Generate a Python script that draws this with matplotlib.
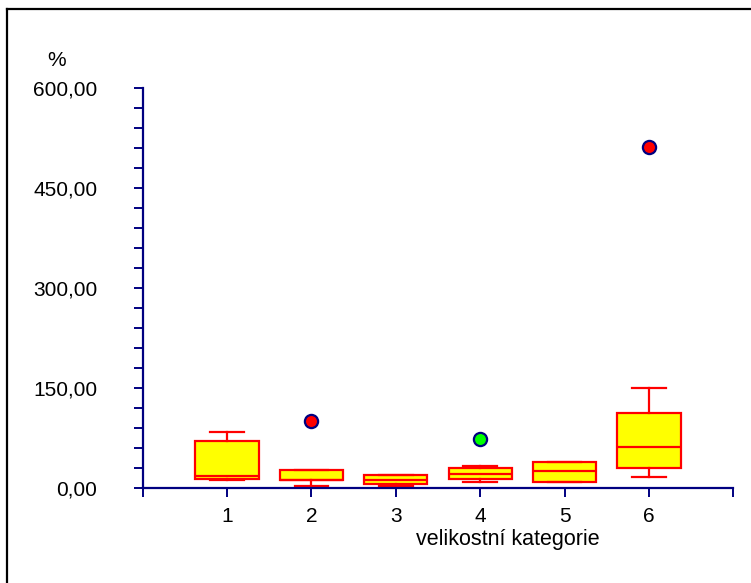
import matplotlib
matplotlib.use("Agg")
import matplotlib.pyplot as plt
from matplotlib.lines import Line2D
from matplotlib.ticker import MultipleLocator, FixedLocator

plt.rcParams['font.family'] = ['Liberation Sans', 'DejaVu Sans']

# values (percent)
categories = [1, 2, 3, 4, 5, 6]
whisker_low = [12.0, 3.0, 3.0, 8.5, 8.5, 16.5]
q1 = [13.5, 11.5, 6.0, 13.5, 8.5, 29.5]
median = [18.0, 12.0, 12.5, 21.0, 25.0, 62.0]
q3 = [70.5, 27.5, 19.0, 30.5, 38.5, 113.0]
whisker_high = [84.0, 27.5, 20.0, 33.0, 38.5, 150.5]
outliers = [[], [101.0], [], [73.0], [], [511.0]]
outlier_colors = ["#FF0000", "#FF0000", "#FF0000", "#00FF00", "#FF0000", "#FF0000"]
y_ticks = [0, 150, 300, 450, 600]
y_tick_labels = ["0,00", "150,00", "300,00", "450,00", "600,00"]

NAVY = "#000080"
RED = "#FF0000"

W, H = 751, 583
fig = plt.figure(figsize=(W / 100, H / 100), dpi=100)
ax = fig.add_axes([142.6 / W, (H - 488) / H, 7 * 84.4 / W, 400 / H])

stats = []
for i in range(len(categories)):
    stats.append({"whislo": whisker_low[i], "q1": q1[i], "med": median[i],
                  "q3": q3[i], "whishi": whisker_high[i], "fliers": []})

ax.bxp(stats, positions=categories, widths=0.75, patch_artist=True,
       showfliers=False, capwidths=0.4,
       boxprops=dict(facecolor="#FFFF00", edgecolor=RED, linewidth=1.6),
       medianprops=dict(color=RED, linewidth=1.6),
       whiskerprops=dict(color=RED, linewidth=1.6),
       capprops=dict(color=RED, linewidth=1.6))

for x, vals, c in zip(categories, outliers, outlier_colors):
    for v in vals:
        ax.plot(x, v, "o", ms=9.5, mfc=c, mec=NAVY, mew=1.6, zorder=5)

ax.set_xlim(0, 7)
ax.set_ylim(0, 600)
for s in ("top", "right"):
    ax.spines[s].set_visible(False)
for s in ("left", "bottom"):
    ax.spines[s].set_color(NAVY)
    ax.spines[s].set_linewidth(1.6)

ax.set_yticks(y_ticks)
ax.set_yticklabels(y_tick_labels)
ax.yaxis.set_minor_locator(MultipleLocator(30))
ax.set_xticks(categories)
ax.set_xticklabels([str(c) for c in categories])
ax.xaxis.set_minor_locator(FixedLocator([0, 7]))

ax.tick_params(axis="y", which="both", direction="out", length=6.5, width=1.4,
               color=NAVY, labelsize=15, pad=26)
ax.tick_params(axis="x", which="both", direction="out", length=6.5, width=1.4,
               color=NAVY, labelsize=15, pad=7)

fig.text(57 / W, 1 - 60 / H, "%", ha="center", va="center", fontsize=15)
fig.text(508 / W, 1 - 539 / H, "velikostní kategorie", ha="center",
         va="center", fontsize=15.5)

# outer frame (left and top edges visible)
fig.add_artist(Line2D([7 / W, 7 / W], [0, 1 - 9 / H], transform=fig.transFigure,
                      color="black", lw=1.6))
fig.add_artist(Line2D([7 / W, 1], [1 - 9 / H, 1 - 9 / H], transform=fig.transFigure,
                      color="black", lw=1.6))

fig.savefig("out.png", dpi=100)
